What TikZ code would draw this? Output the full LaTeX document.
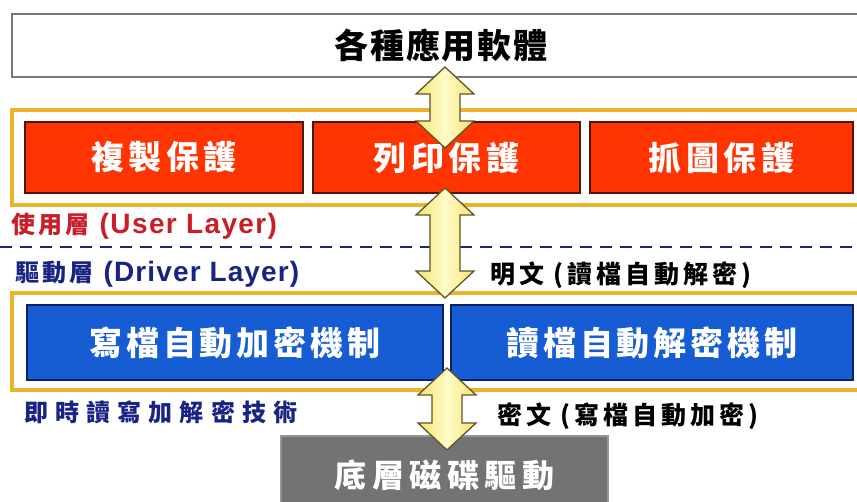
\documentclass[tikz,border=0pt]{standalone}
\usepackage{fontspec}
\setmainfont{Liberation Sans}
\newfontfamily\cjk{Noto Sans CJK TC}
\usetikzlibrary{calc}
\definecolor{goldline}{RGB}{232,182,40}
\definecolor{boxred}{RGB}{255,52,0}
\definecolor{boxredline}{RGB}{80,22,10}
\definecolor{boxblue}{RGB}{22,92,210}
\definecolor{boxblueline}{RGB}{12,30,105}
\definecolor{boxgray}{RGB}{115,115,115}
\definecolor{boxgrayline}{RGB}{150,150,150}
\definecolor{topline}{RGB}{120,120,120}
\definecolor{userred}{RGB}{200,30,40}
\definecolor{drivernavy}{RGB}{25,35,130}
\definecolor{arrowedge}{RGB}{95,85,40}
\definecolor{arrowside}{RGB}{245,228,115}
\definecolor{arrowmid}{RGB}{255,252,200}
\newcommand\cjkfont[2]{\cjk\bfseries\fontsize{#1}{#1}\selectfont\addfontfeature{LetterSpace=#2}}
\newcommand\latfont[2]{\bfseries\fontsize{#1}{#1}\selectfont\addfontfeature{LetterSpace=#2}}
\newcommand\dblarrow[2]{%
  \shade[arrowbody] let \p1=(#1), \p2=(#2) in
    (\x1,\y1) -- (\x1+29pt,\y1-27pt) -- (\x1+15pt,\y1-27pt) -- (\x1+15pt,\y2+27pt)
    -- (\x1+29pt,\y2+27pt) -- (\x1,\y2) -- (\x1-29pt,\y2+27pt) -- (\x1-15pt,\y2+27pt)
    -- (\x1-15pt,\y1-27pt) -- (\x1-29pt,\y1-27pt) -- cycle;}
\begin{document}
\begin{tikzpicture}[x=1pt,y=-1pt,
  box/.style={rectangle, inner sep=0pt, outer sep=0pt},
  topbox/.style={box, draw=topline, line width=1.5pt, fill=white, text=black},
  frame/.style={box, draw=goldline, line width=3.5pt, fill=white},
  redbox/.style={box, draw=boxredline, line width=1.5pt, fill=boxred, text=white},
  bluebox/.style={box, draw=boxblueline, line width=1.5pt, fill=boxblue, text=white},
  graybox/.style={box, draw=boxgrayline, line width=1.2pt, fill=boxgray, text=white},
  label/.style={inner sep=0pt, outer sep=0pt, anchor=west},
  layerline/.style={draw=drivernavy, line width=2.8pt, dash pattern=on 12pt off 8pt},
  arrowbody/.style={left color=arrowside, right color=arrowside, middle color=arrowmid, draw=arrowedge, line width=1.3pt, line join=miter}
]
\clip (0,0) rectangle (857,501);
\fill[white] (0,0) rectangle (857,501);

% top application box
\node[topbox, minimum width=858pt, minimum height=63pt] (apps) at (441,45.5)
  {\cjkfont{34}{5}各種應用軟體};

% user layer
\node[frame, minimum width=858pt, minimum height=95pt] (userframe) at (441,157.5) {};
\node[redbox, minimum width=278pt, minimum height=71pt] (copy) at (164,157.5)
  {\cjkfont{33}{14}複製保護};
\node[redbox, minimum width=267pt, minimum height=71pt] (print) at (446.5,157.5)
  {\cjkfont{33}{14}列印保護};
\node[redbox, minimum width=263pt, minimum height=71pt] (grab) at (721.5,157.5)
  {\cjkfont{33}{14}抓圖保護};

\node[label, text=userred] (userlbl) at (11,226)
  {{\cjkfont{24}{14}使用層}\hspace{10pt}{\latfont{28}{5}(User Layer)}};

% layer divider
\coordinate (divL) at (0,247);
\coordinate (divR) at (857,247);
\draw[layerline] (divL) -- (divR);

\node[label, text=drivernavy] (driverlbl) at (15,274)
  {{\cjkfont{24}{14}驅動層}\hspace{10pt}{\latfont{28}{4}(Driver Layer)}};
\node[label, text=black] (plainlbl) at (490,275)
  {\cjkfont{25}{16}明文 (讀檔自動解密)};

% driver layer
\node[frame, minimum width=858pt, minimum height=97pt] (driverframe) at (441,341.5) {};
\node[bluebox, minimum width=416pt, minimum height=75pt] (enc) at (235,342.5)
  {\cjkfont{33}{12}寫檔自動加密機制};
\node[bluebox, minimum width=402pt, minimum height=75pt] (dec) at (652,342.5)
  {\cjkfont{33}{12}讀檔自動解密機制};

\node[label, text=drivernavy] (techlbl) at (24,412)
  {\cjkfont{24}{30}即時讀寫加解密技術};
\node[label, text=black] (cipherlbl) at (497,416)
  {\cjkfont{25}{16}密文 (寫檔自動加密)};

% disk driver
\node[graybox, minimum width=327pt, minimum height=79pt, anchor=north] (disk) at (444.5,436)
  {\raisebox{-18pt}{\cjkfont{32}{17}底層磁碟驅動}};

% double arrows
\coordinate (a1t) at (445,67);
\coordinate (a1b) at (445,148);
\coordinate (a2t) at (445,188);
\coordinate (a2b) at (445,298);
\coordinate (a3t) at (447,368);
\coordinate (a3b) at (447,450);
\dblarrow{a1t}{a1b}
\dblarrow{a2t}{a2b}
\dblarrow{a3t}{a3b}
\end{tikzpicture}
\end{document}
